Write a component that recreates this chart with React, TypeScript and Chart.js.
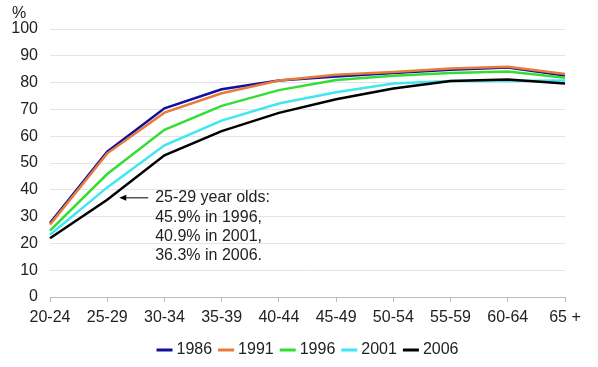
import React, { useEffect, useRef } from "react";
import { Chart, registerables } from "chart.js";

Chart.register(...registerables);

const categories = ["20-24", "25-29", "30-34", "35-39", "40-44", "45-49", "50-54", "55-59", "60-64", "65 +"];
const yTicks = [0, 10, 20, 30, 40, 50, 60, 70, 80, 90, 100];
const years = ["1986", "1991", "1996", "2001", "2006"];
const colors = ["#1010a0", "#e87a3a", "#33dd33", "#40e6f0", "#000000"];

const s1986 = [27.6, 54.2, 70.4, 77.5, 80.8, 82.3, 83.6, 84.8, 85.6, 82.6];
const s1991 = [27.0, 53.6, 68.8, 76.0, 80.8, 82.9, 84.0, 85.3, 85.9, 83.2];
const s1996 = [24.8, 45.9, 62.4, 71.3, 77.2, 81.0, 82.6, 83.6, 84.1, 81.8];
const s2001 = [23.2, 40.9, 56.6, 65.8, 72.2, 76.4, 79.7, 80.6, 80.6, 80.8];
const s2006 = [21.9, 36.3, 52.9, 61.9, 68.7, 73.8, 77.8, 80.6, 81.2, 79.7];
const seriesList = [s1986, s1991, s1996, s2001, s2006];

const noteLines = ["25-29 year olds:", "45.9% in 1996,", "40.9% in 2001,", "36.3% in 2006."];

const FONT = "'Liberation Sans', Arial, sans-serif";

const extras = {
  id: "extras",
  afterDraw(chart: any) {
    const ctx = chart.ctx;
    const x = chart.scales.x;
    const y = chart.scales.y;
    const area = chart.chartArea;
    ctx.save();
    // % label
    ctx.fillStyle = "#222";
    ctx.font = `16px ${FONT}`;
    ctx.textAlign = "center";
    ctx.textBaseline = "middle";
    ctx.fillText("%", 19, y.getPixelForValue(100) - 15);
    // annotation arrow
    const ax = x.getPixelForValue(1);
    const ay = y.getPixelForValue(37);
    ctx.strokeStyle = "#000";
    ctx.fillStyle = "#000";
    ctx.lineWidth = 1;
    ctx.beginPath();
    ctx.moveTo(ax + 41, ay);
    ctx.lineTo(ax + 16, ay);
    ctx.stroke();
    ctx.beginPath();
    ctx.moveTo(ax + 12, ay);
    ctx.lineTo(ax + 19, ay - 3);
    ctx.lineTo(ax + 19, ay + 3);
    ctx.closePath();
    ctx.fill();
    // annotation text
    ctx.fillStyle = "#222";
    ctx.textAlign = "left";
    noteLines.forEach((t, i) => {
      ctx.fillText(t, ax + 48, ay + i * 19.4);
    });
    // legend
    const ds = chart.data.datasets;
    const lineW = 16;
    const gapText = 4;
    const gapItem = 6;
    const widths = ds.map((d: any) => lineW + gapText + ctx.measureText(d.label).width);
    const total = widths.reduce((a: number, b: number) => a + b, 0) + gapItem * (ds.length - 1);
    let lx = (area.left + area.right) / 2 - total / 2;
    const ly = chart.height - 17;
    ds.forEach((d: any, i: number) => {
      ctx.fillStyle = d.borderColor;
      ctx.fillRect(lx, ly - 1.5, lineW, 3);
      ctx.fillStyle = "#222";
      ctx.fillText(d.label, lx + lineW + gapText, ly);
      lx += widths[i] + gapItem;
    });
    ctx.restore();
  },
};

export default function App() {
  const ref = useRef<HTMLCanvasElement>(null);
  useEffect(() => {
    document.body.style.margin = "0";
    const chart = new Chart(ref.current!, {
      type: "line",
      data: {
        labels: categories,
        datasets: years.map((yr, i) => ({
          label: yr,
          data: seriesList[i],
          borderColor: colors[i],
          backgroundColor: colors[i],
          borderWidth: 2.5,
          pointRadius: 0,
          tension: 0,
          order: years.length - i,
        })),
      },
      options: {
        animation: false,
        responsive: false,
        layout: { padding: { top: 29, right: 33, left: 0, bottom: 40 } },
        plugins: {
          tooltip: { enabled: false },
          legend: { display: false },
        },
        scales: {
          x: {
            offset: false,
            afterFit: (s: any) => {
              s.height = 30;
            },
            grid: {
              drawOnChartArea: false,
              drawTicks: true,
              tickLength: 5,
              color: "#bbbbbb",
            },
            border: { color: "#bbbbbb" },
            ticks: {
              font: { family: FONT, size: 16 },
              color: "#222",
              padding: 6,
              maxRotation: 0,
              autoSkip: false,
            },
          },
          y: {
            min: 0,
            max: 100,
            afterFit: (s: any) => {
              s.width = 50;
            },
            afterBuildTicks: (s: any) => {
              s.ticks = yTicks.map((v) => ({ value: v }));
            },
            grid: { color: "#e4e4e4", drawTicks: false },
            border: { display: false },
            ticks: {
              font: { family: FONT, size: 16 },
              color: "#222",
              padding: 12,
            },
          },
        },
      },
      plugins: [extras],
    });
    return () => chart.destroy();
  }, []);
  return <canvas ref={ref} width={598} height={367} style={{ display: "block" }} />;
}
